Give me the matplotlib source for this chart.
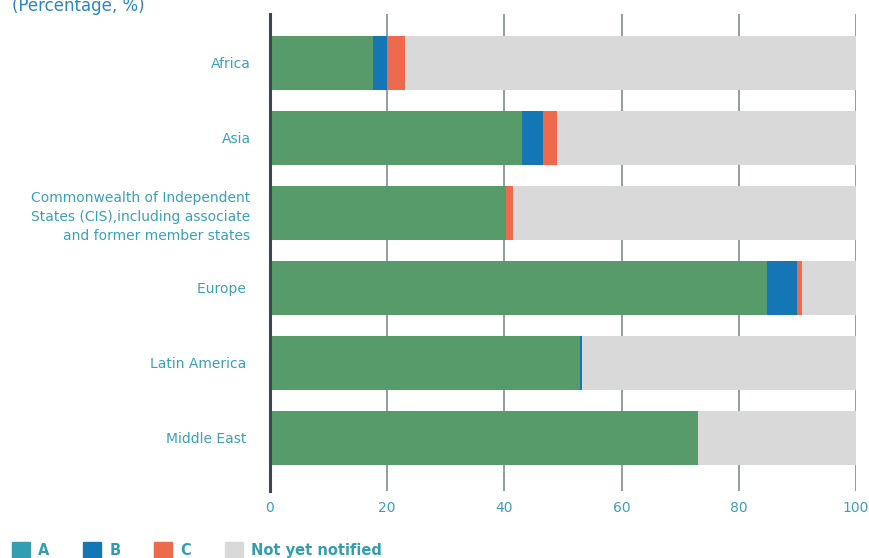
import matplotlib.pyplot as plt
import numpy as np

regions = ['Africa', 'Asia',
           'Commonwealth of Independent\nStates (CIS),including associate\nand former member states',
           'Europe ', 'Latin America ', 'Middle East ']
a_vals = [17.6, 43.0, 40.2, 84.8, 52.9, 73.0]
b_vals = [2.4, 3.6, 0.0, 5.1, 0.3, 0.0]
c_vals = [3.1, 2.4, 1.3, 0.9, 0.0, 0.0]
series_names = ['A', 'B', 'C', 'Not yet notified']
x_ticks = [0, 20, 40, 60, 80, 100]

green = '#579b6a'
blue = '#1476b5'
orange = '#ee6a4c'
grey = '#d9d9d9'
teal = '#339eb0'
txt = '#3aa0b8'

a = np.array(a_vals)
b = np.array(b_vals)
c = np.array(c_vals)
rest = 100 - a - b - c
y = np.arange(len(regions))

fig = plt.figure(figsize=(8.69, 5.58), dpi=100)
ax = fig.add_axes([270 / 869, 1 - 491 / 558, 586 / 869, 477 / 558])

h = 0.72
ax.barh(y, a, height=h, color=green, zorder=2)
ax.barh(y, b, left=a, height=h, color=blue, zorder=2)
ax.barh(y, c, left=a + b, height=h, color=orange, zorder=2)
ax.barh(y, rest, left=a + b + c, height=h, color=grey, zorder=2)

ax.set_xlim(0, 100)
ax.set_ylim(len(regions) - 1 + 0.707, -0.653)
ax.set_xticks(x_ticks)
ax.set_xticklabels([str(t) for t in x_ticks])
ax.set_yticks(y)
ax.set_yticklabels(regions)
for lab in ax.get_yticklabels():
    lab.set_linespacing(1.45)

ax.grid(axis='x', color='#8c9398', linewidth=1.3, zorder=0)
ax.set_axisbelow(True)
for s in ['top', 'right', 'bottom']:
    ax.spines[s].set_visible(False)
ax.spines['left'].set_color('#3b4750')
ax.spines['left'].set_linewidth(2.2)
ax.spines['left'].set_zorder(3)

ax.tick_params(axis='y', length=0, pad=14, labelsize=10, labelcolor=txt)
ax.tick_params(axis='x', length=0, pad=7, labelsize=10, labelcolor=txt)

fig.text(12 / 869, 1 - 6 / 558, '(Percentage, %)', fontsize=12, color='#2a86c0',
         ha='left', va='center')

# legend: A swatch is teal in the original even though the bars are green
handles = [plt.Rectangle((0, 0), 1, 1, color=col) for col in [teal, blue, orange, grey]]
fig.legend(handles, series_names, loc='lower left', bbox_to_anchor=(12 / 869, 0),
           ncol=4, frameon=False, handlelength=1.25, handleheight=1.25,
           handletextpad=0.55, columnspacing=2.3, borderaxespad=0, borderpad=0,
           prop={'size': 10.5, 'weight': 'bold'}, labelcolor=teal)

fig.savefig('out.png', dpi=100)
